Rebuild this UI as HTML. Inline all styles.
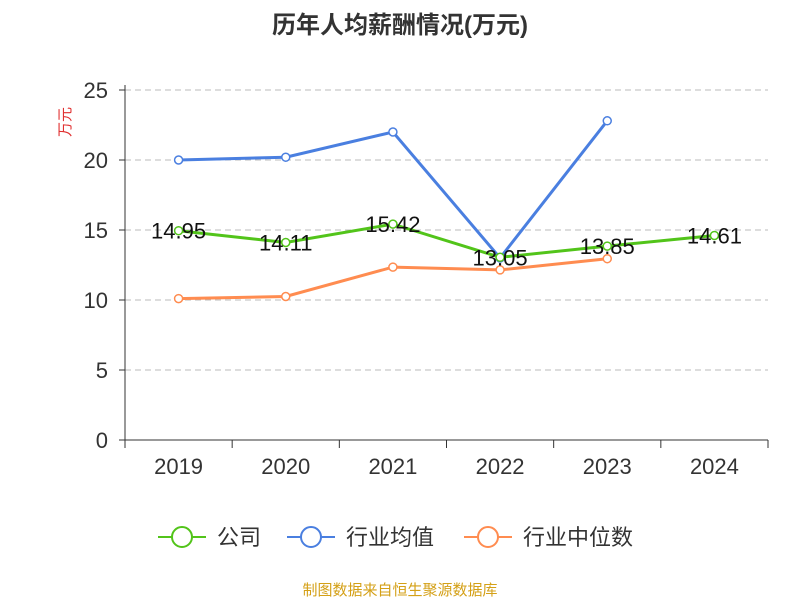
<!DOCTYPE html>
<html><head><meta charset="utf-8"><style>
body{margin:0;background:#fff;font-family:"Liberation Sans","Noto Sans CJK SC",sans-serif}
svg text{font-family:"Liberation Sans","Noto Sans CJK SC",sans-serif}
</style></head><body>
<svg id="c" width="800" height="600" xmlns="http://www.w3.org/2000/svg">
<text x="400" y="33" text-anchor="middle" font-size="24" font-weight="bold" fill="#333">历年人均薪酬情况(万元)</text>
<text transform="translate(70,122) rotate(-90)" text-anchor="middle" font-size="15" fill="#e03030">万元</text>
<g id="grid"></g><g id="axes"></g><g id="series"></g>
<g>
<g><line x1="158" y1="537" x2="206" y2="537" stroke="#52c41a" stroke-width="2"/><circle cx="182" cy="537" r="10" fill="#fff" stroke="#52c41a" stroke-width="2"/><text x="217" y="545" font-size="22" fill="#333">公司</text></g>
<g><line x1="287" y1="537" x2="335" y2="537" stroke="#4a7fe0" stroke-width="2"/><circle cx="311" cy="537" r="10" fill="#fff" stroke="#4a7fe0" stroke-width="2"/><text x="346" y="545" font-size="22" fill="#333">行业均值</text></g>
<g><line x1="464" y1="537" x2="512" y2="537" stroke="#ff8c50" stroke-width="2"/><circle cx="488" cy="537" r="10" fill="#fff" stroke="#ff8c50" stroke-width="2"/><text x="523" y="545" font-size="22" fill="#333">行业中位数</text></g>
</g>
<text x="400" y="595" text-anchor="middle" font-size="15" fill="#d4a017">制图数据来自恒生聚源数据库</text>
</svg>
<script>
const categories=["2019","2020","2021","2022","2023","2024"];
const companyValues=[14.95,14.11,15.42,13.05,13.85,14.61];
const avgValues=[20.0,20.2,22.0,13.0,22.8,null];
const medianValues=[10.1,10.25,12.35,12.15,12.95,null];
const yTicks=[0,5,10,15,20,25];
const NS="http://www.w3.org/2000/svg";
const x0=125,x1=768,y0=440,y1=90,ymax=25;
const bw=(x1-x0)/categories.length;
const xs=i=>x0+bw*(i+0.5);
const ys=v=>y0-(v/ymax)*(y0-y1);
function mk(t,a,p){const e=document.createElementNS(NS,t);for(const k in a)e.setAttribute(k,a[k]);p.appendChild(e);return e;}
const grid=document.getElementById('grid'),axes=document.getElementById('axes'),ser=document.getElementById('series');
yTicks.forEach(v=>{
 if(v>0){const g=mk('line',{x1:x0,x2:x1,y1:ys(v),y2:ys(v),stroke:'#bbb','stroke-dasharray':'6,4'},grid);
 
 }
 const t=mk('text',{x:x0-17,y:ys(v)+8,'text-anchor':'end','font-size':'22',fill:'#333'},axes);t.textContent=v;
 
 
 mk('line',{x1:x0-6,x2:x0,y1:ys(v),y2:ys(v),stroke:'#333'},axes);
});
const ya=mk('line',{x1:x0,x2:x0,y1:y1-5,y2:y0,stroke:'#333'},axes);


const xa=mk('line',{x1:x0,x2:x1,y1:y0,y2:y0,stroke:'#333'},axes);


for(let i=0;i<=categories.length;i++)mk('line',{x1:x0+bw*i,x2:x0+bw*i,y1:y0,y2:y0+8,stroke:'#333'},axes);
categories.forEach((c,i)=>{const t=mk('text',{x:xs(i),y:y0+34,'text-anchor':'middle','font-size':'22',fill:'#333'},axes);t.textContent=c;
 
 });
function series(vals,color,name,labels){
 const pts=[];vals.forEach((v,i)=>{if(v!==null)pts.push(xs(i)+','+ys(v));});
 const p=mk('polyline',{points:pts.join(' '),fill:'none',stroke:color,'stroke-width':3},ser);
 
 
 vals.forEach((v,i)=>{if(v===null)return;
  const c=mk('circle',{cx:xs(i),cy:ys(v),r:4,fill:'#fff',stroke:color,'stroke-width':1.5},ser);
  
  
  if(labels){const t=mk('text',{x:xs(i),y:ys(v)+8,'text-anchor':'middle','font-size':'22',fill:'#111'},ser);t.textContent=v.toFixed(2);
  
  }
 });
}
series(medianValues,'#ff8c50','industry-median',false);
series(avgValues,'#4a7fe0','industry-average',false);
series(companyValues,'#52c41a','company',true);
</script>
</body></html>
